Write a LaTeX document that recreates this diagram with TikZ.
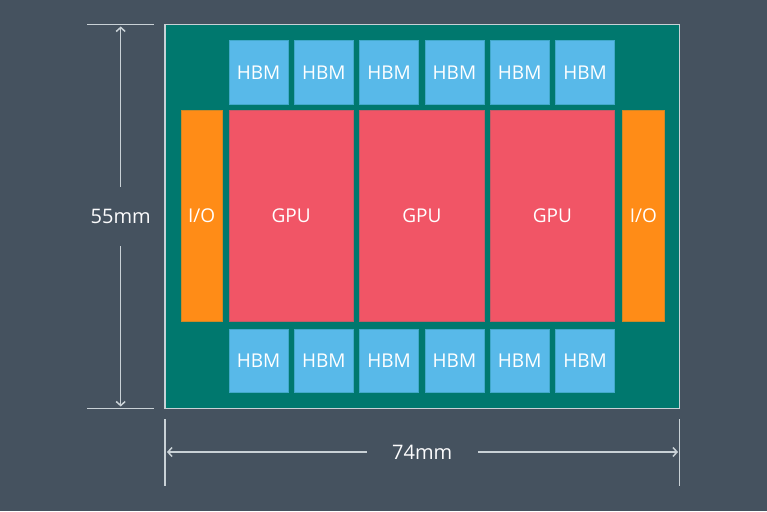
\documentclass[tikz,border=0pt]{standalone}
\usepackage{fontspec}
\setmainfont{Open Sans}
\usepackage{tikz}
\usetikzlibrary{arrows.meta, positioning}
\definecolor{slatebg}{RGB}{69, 82, 95}
\definecolor{pkgteal}{RGB}{0, 120, 110}
\definecolor{hbmblue}{RGB}{88, 185, 233}
\definecolor{gpured}{RGB}{241, 85, 102}
\definecolor{ioorange}{RGB}{255, 140, 23}
\definecolor{dimgray}{RGB}{201, 209, 214}

\begin{document}
\begin{tikzpicture}[x=1pt, y=-1pt,
  hbm/.style={draw=hbmblue!75!pkgteal, line width=0.8pt, fill=hbmblue, minimum width=59pt, minimum height=63pt, inner sep=0pt, font=\fontsize{19}{19}\selectfont, text=white},
  gpu/.style={draw=gpured!80!pkgteal, line width=0.8pt, fill=gpured, minimum width=124.4pt, minimum height=210.6pt, inner sep=0pt, font=\fontsize{19}{19}\selectfont, text=white},
  io/.style={draw=ioorange!80!pkgteal, line width=0.8pt, fill=ioorange, minimum width=41.3pt, minimum height=210.6pt, inner sep=0pt, font=\fontsize{19}{19}\selectfont, text=white},
  dim/.style={draw=dimgray, line width=1.5pt},
  dimlbl/.style={inner sep=0pt, font=\fontsize{20}{20}\selectfont, text=white!92!dimgray},
]
  % Background
  \fill[slatebg] (0,0) rectangle (767,511);

  % Package
  \node[draw=dimgray, line width=1.5pt, fill=pkgteal, minimum width=514.5pt, minimum height=383.6pt, inner sep=0pt] (pkg) at (422.25,216.5) {};

  % HBM stacks, top row
  \node[hbm] (hbmt1) at (258.5,72.4) {HBM};
  \node[hbm] (hbmt2) at (323.8,72.4) {HBM};
  \node[hbm] (hbmt3) at (389.1,72.4) {HBM};
  \node[hbm] (hbmt4) at (454.4,72.4) {HBM};
  \node[hbm] (hbmt5) at (519.7,72.4) {HBM};
  \node[hbm] (hbmt6) at (585.0,72.4) {HBM};

  % GPU dies and I/O dies
  \node[io] (iol) at (201.7,216) {I/O};
  \node[gpu] (gpu1) at (291.2,216) {GPU};
  \node[gpu] (gpu2) at (421.8,216) {GPU};
  \node[gpu] (gpu3) at (552.4,216) {GPU};
  \node[io] (ior) at (643.3,216) {I/O};

  % HBM stacks, bottom row
  \node[hbm] (hbmb1) at (258.5,360.5) {HBM};
  \node[hbm] (hbmb2) at (323.8,360.5) {HBM};
  \node[hbm] (hbmb3) at (389.1,360.5) {HBM};
  \node[hbm] (hbmb4) at (454.4,360.5) {HBM};
  \node[hbm] (hbmb5) at (519.7,360.5) {HBM};
  \node[hbm] (hbmb6) at (585.0,360.5) {HBM};

  % Dimension: height
  \coordinate (extTl) at (87,24.7);
  \coordinate (extTr) at (154,24.7);
  \coordinate (extBl) at (87,408.3);
  \coordinate (extBr) at (154,408.3);
  \coordinate (tipT) at (120.7,26.5);
  \coordinate (tipB) at (120.7,406.5);
  \node[dimlbl, minimum height=59pt] (lbl55) at (120.7,216.3) {55mm};
  \draw[dim] (extTl) -- (extTr);
  \draw[dim] (extBl) -- (extBr);
  \draw[dim, -{Straight Barb[length=4pt, width=9pt]}] (lbl55.north) -- (tipT);
  \draw[dim, -{Straight Barb[length=4pt, width=9pt]}] (lbl55.south) -- (tipB);

  % Dimension: width
  \coordinate (extLt) at (165,419);
  \coordinate (extLb) at (165,485.7);
  \coordinate (extRt) at (679.7,419);
  \coordinate (extRb) at (679.7,485.7);
  \coordinate (tipL) at (167,452);
  \coordinate (tipR) at (678,452);
  \node[dimlbl, minimum width=111pt] (lbl74) at (422.2,452) {74mm};
  \draw[dim] (extLt) -- (extLb);
  \draw[dim] (extRt) -- (extRb);
  \draw[dim, -{Straight Barb[length=4pt, width=9pt]}] (lbl74.west) -- (tipL);
  \draw[dim, -{Straight Barb[length=4pt, width=9pt]}] (lbl74.east) -- (tipR);

  \useasboundingbox (0,0) rectangle (767,511);
\end{tikzpicture}
\end{document}
